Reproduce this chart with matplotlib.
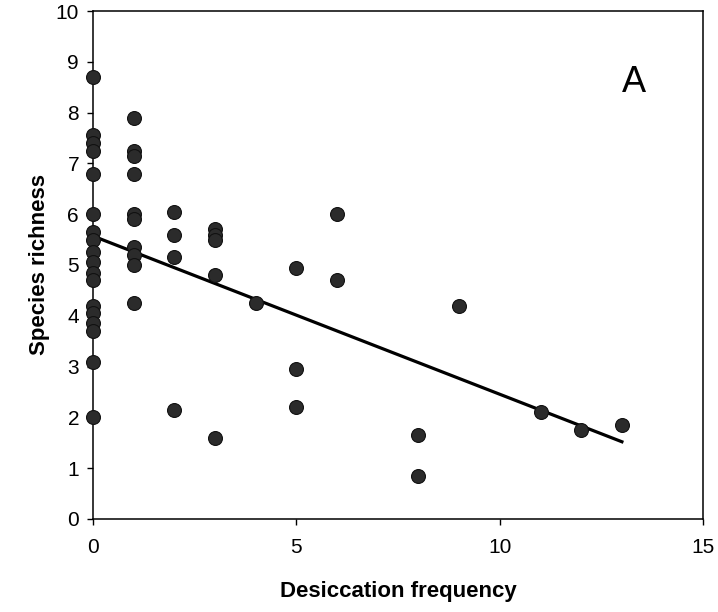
import matplotlib
matplotlib.use("Agg")
import matplotlib.pyplot as plt

plt.rcParams['font.family'] = ['Liberation Sans', 'DejaVu Sans']

# Desiccation frequency vs species richness
freq = [0] * 18 + [1] * 10 + [2] * 4 + [3] * 5 + [4] + [5] * 3 + [6] * 2 + [8] * 2 + [9, 11, 12, 13]
richness = [8.7, 7.55, 7.4, 7.25, 6.8, 6.0, 5.65, 5.5, 5.25, 5.05, 4.85, 4.7,
            4.2, 4.05, 3.85, 3.7, 3.1, 2.0,
            7.9, 7.25, 7.15, 6.8, 6.0, 5.9, 5.35, 5.2, 5.0, 4.25,
            6.05, 5.6, 5.15, 2.15,
            5.7, 5.6, 5.5, 4.8, 1.6,
            4.25,
            4.95, 2.95, 2.2,
            6.0, 4.7,
            1.65, 0.85,
            4.2, 2.1, 1.75, 1.85]

# regression line end points
fit_x = [0, 13]
fit_y = [5.57, 1.52]

fig = plt.figure(figsize=(7.18, 6.12), dpi=100)
ax = fig.add_axes([0.1295, 0.152, 0.85, 0.83])

ax.plot(fit_x, fit_y, color='black', lw=2.3, zorder=2)
ax.plot(freq, richness, 'o', ms=10, mfc='#2b2b2b', mec='#111111', mew=0.8,
        clip_on=False, zorder=3)

ax.set_xlim(0, 15)
ax.set_ylim(0, 10)
ax.set_xticks([0, 5, 10, 15])
ax.set_yticks(range(0, 11))
ax.tick_params(direction='out', length=4, width=1, labelsize=15, pad=6)
ax.tick_params(axis='x', pad=10)
for s in ax.spines.values():
    s.set_linewidth(1.1)

ax.set_xlabel('Desiccation frequency', fontsize=16, fontweight='bold', labelpad=17)
ax.set_ylabel('Species richness', fontsize=16, fontweight='bold', labelpad=4)
ax.text(13.3, 8.6, 'A', fontsize=26, ha='center', va='center')

fig.savefig('out.png', dpi=100)
